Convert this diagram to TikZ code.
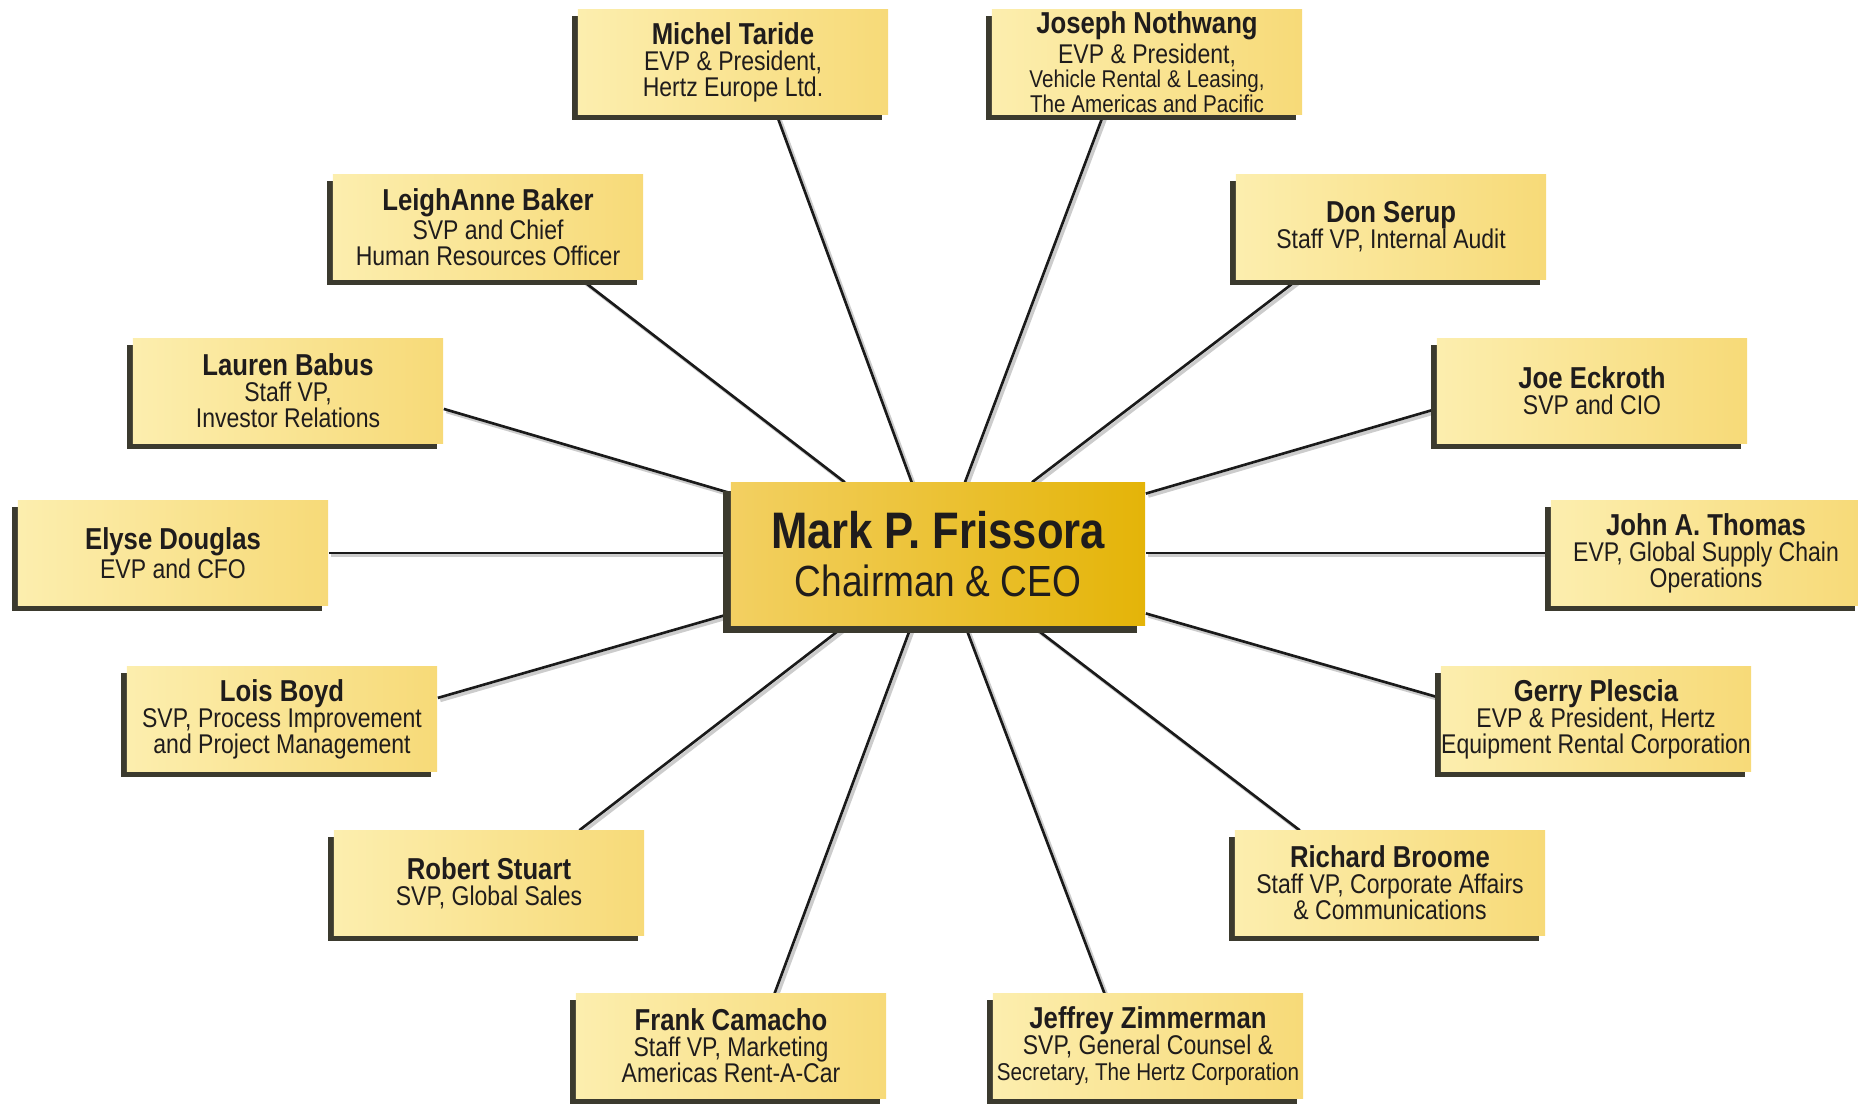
\documentclass[tikz,border=0pt]{standalone}
\usepackage{fontspec}
\setmainfont{Liberation Sans}[FakeStretch=0.85]
\usetikzlibrary{calc,shadows,backgrounds}

\definecolor{ink}{HTML}{1F1C1C}
\definecolor{postlight}{HTML}{FCEEAE}
\definecolor{postdark}{HTML}{F7DA78}
\definecolor{postshade}{HTML}{3B3A2E}
\definecolor{ceolight}{HTML}{F3D062}
\definecolor{ceodark}{HTML}{E4B408}
\definecolor{tiecol}{HTML}{1A1A1A}

\newcommand\titlefont{\fontsize{7.7}{7.4}\selectfont}
\newcommand\namefont{\fontsize{8.6}{7.4}\selectfont\bfseries}
\newcommand\narrowfont{\fontsize{6.9}{7.0}\selectfont}

\begin{document}
\begin{tikzpicture}[x=0.01cm,y=-0.01cm]

    \tikzset{
      post/.style={
        left color=postlight,
        right color=postdark,
        minimum width=3.1cm,
        minimum height=1.04cm,
        inner sep=0pt,
        align=center,
        text=ink,
        font=\titlefont,
        general shadow={fill=postshade, shadow xshift=-0.06cm, shadow yshift=-0.06cm},
      },
      chief/.style={
        left color=ceolight,
        right color=ceodark,
        minimum width=4.14cm,
        minimum height=1.42cm,
        inner sep=0pt,
        align=center,
        text=ink,
        font=\fontsize{12.4}{13.7}\selectfont,
        general shadow={fill=postshade, shadow xshift=-0.08cm, shadow yshift=-0.08cm},
      },
      tie/.style={
        draw=tiecol,
        line width=0.75pt,
        preaction={draw=black!20, line width=1pt,
          transform canvas={xshift=0.025cm,yshift=-0.025cm}},
      },
    }
    \useasboundingbox (0,0) rectangle (1858,1103);
    \clip (0,0) rectangle (1858,1103);

    % chairman
    \node[chief] (ceo) at (938,554) {{\fontsize{14.6}{13.7}\selectfont\bfseries Mark P. Frissora}\\Chairman \& CEO};

    % left column
    \node[post] (taride) at (733,62) {{\namefont Michel Taride}\\EVP \& President,\\Hertz Europe Ltd.};
    \node[post] (baker) at (488,227) {{\namefont LeighAnne Baker}\\SVP and Chief\\Human Resources Officer};
    \node[post] (babus) at (288,391) {{\namefont Lauren Babus}\\Staff VP,\\Investor Relations};
    \node[post] (douglas) at (173,553) {{\namefont Elyse Douglas}\\EVP and CFO};
    \node[post] (boyd) at (282,719) {{\namefont Lois Boyd}\\SVP, Process Improvement\\and Project Management};
    \node[post] (stuart) at (489,883) {{\namefont Robert Stuart}\\SVP, Global Sales};
    \node[post] (camacho) at (731,1046) {{\namefont Frank Camacho}\\Staff VP, Marketing\\Americas Rent-A-Car};

    % right column
    \node[post, font=\fontsize{7.7}{7.0}\selectfont] (nothwang) at (1147,62) {{\namefont Joseph Nothwang}\\EVP \& President,\\{\narrowfont Vehicle Rental \& Leasing,}\\{\narrowfont The Americas and Pacific}};
    \node[post] (serup) at (1391,227) {{\namefont Don Serup}\\Staff VP, Internal Audit};
    \node[post] (eckroth) at (1592,391) {{\namefont Joe Eckroth}\\SVP and CIO};
    \node[post] (thomas) at (1706,553) {{\namefont John A. Thomas}\\EVP, Global Supply Chain\\Operations};
    \node[post] (plescia) at (1596,719) {{\namefont Gerry Plescia}\\EVP \& President, Hertz\\Equipment Rental Corporation};
    \node[post] (broome) at (1390,883) {{\namefont Richard Broome}\\Staff VP, Corporate Affairs\\\& Communications};
    \node[post] (zimmerman) at (1148,1046) {{\namefont Jeffrey Zimmerman}\\SVP, General Counsel \&\\{\narrowfont Secretary, The Hertz Corporation}};

    % ties to the chairman
    \begin{scope}[on background layer]
    \draw[tie] ($(taride.south west)!.64!(taride.south east)$) -- (ceo);
    \draw[tie] ($(nothwang.south west)!.36!(nothwang.south east)$) -- (ceo);
    \draw[tie] ($(baker.south west)!.80!(baker.south east)$) -- (ceo);
    \draw[tie] ($(serup.south west)!.20!(serup.south east)$) -- (ceo);
    \draw[tie] ($(babus.north east)!.67!(babus.south east)$) -- (ceo);
    \draw[tie] ($(eckroth.north west)!.67!(eckroth.south west)$) -- (ceo);
    \draw[tie] (douglas.east) -- (ceo.west |- douglas.east);
    \draw[tie] (thomas.west) -- (ceo.east |- thomas.west);
    \draw[tie] ($(boyd.north east)!.30!(boyd.south east)$) -- (ceo);
    \draw[tie] ($(plescia.north west)!.30!(plescia.south west)$) -- (ceo);
    \draw[tie] ($(stuart.north west)!.79!(stuart.north east)$) -- (ceo);
    \draw[tie] ($(broome.north west)!.21!(broome.north east)$) -- (ceo);
    \draw[tie] ($(camacho.north west)!.64!(camacho.north east)$) -- (ceo);
    \draw[tie] ($(zimmerman.north west)!.36!(zimmerman.north east)$) -- (ceo);
    \end{scope}

\end{tikzpicture}
\end{document}
